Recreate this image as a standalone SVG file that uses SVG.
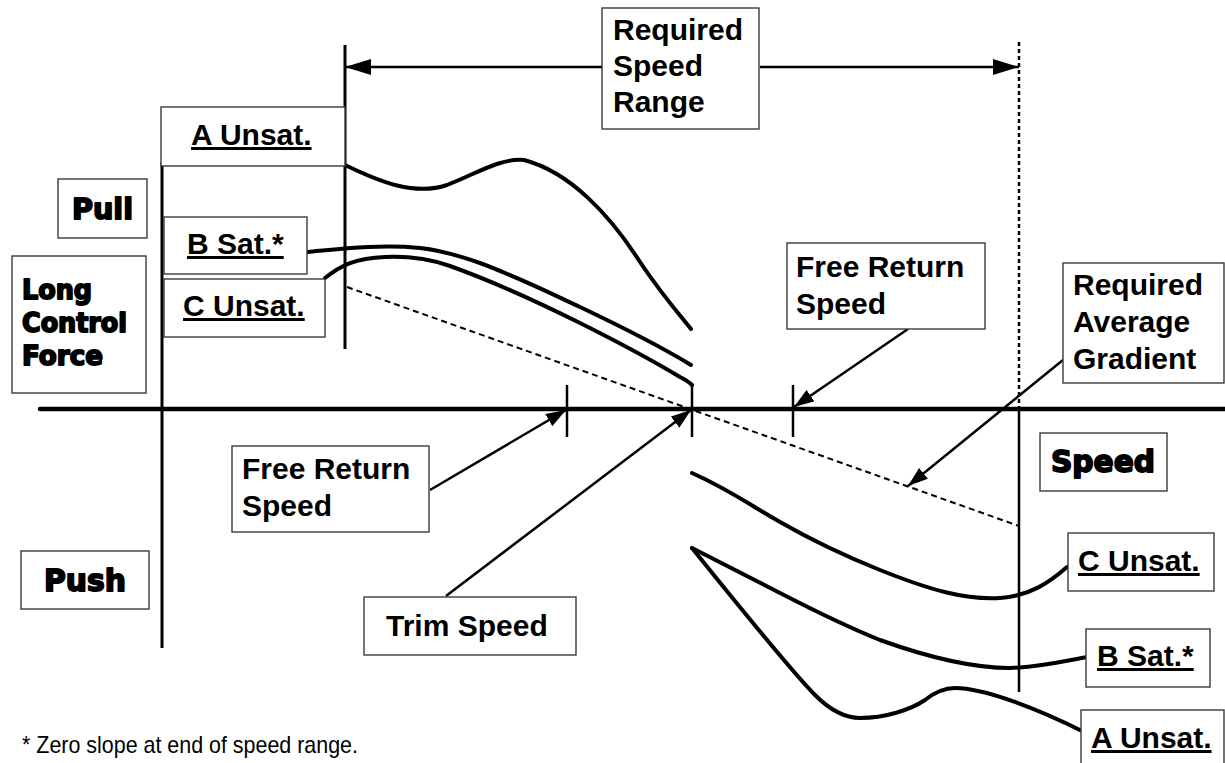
<svg xmlns="http://www.w3.org/2000/svg" width="1225" height="763" viewBox="0 0 1225 763">
<style>
.box{fill:#fff;stroke:#3a3a3a;stroke-width:1.4}
.lbl{font-family:"Liberation Sans",Arial,sans-serif;font-weight:bold;font-size:30px;fill:#000}
.u{text-decoration:underline}
.blk{font-family:"DejaVu Sans","Liberation Sans",sans-serif;font-weight:bold;fill:#000;stroke:#000;stroke-width:1.8;stroke-linejoin:round}
.curve{fill:none;stroke:#000;stroke-width:4;stroke-linecap:round;stroke-linejoin:round}
.ax{fill:none;stroke:#000;stroke-width:3}
.tick{fill:none;stroke:#000;stroke-width:2.5}
.arr{fill:none;stroke:#000;stroke-width:2.5}
.note{font-family:"Liberation Sans",Arial,sans-serif;font-size:24px;fill:#000}
</style>
<defs>
<marker id="ah" viewBox="0 0 20 14" refX="20" refY="7" markerWidth="20" markerHeight="14" markerUnits="userSpaceOnUse" orient="auto">
<path d="M0,0 L20,7 L0,14 z" fill="#000"/>
</marker>
<marker id="ahL" viewBox="0 0 26 16" refX="26" refY="8" markerWidth="26" markerHeight="16" markerUnits="userSpaceOnUse" orient="auto">
<path d="M0,0 L26,8 L0,16 z" fill="#000"/>
</marker>
</defs>
<rect width="1225" height="763" fill="#fff"/>

<g id="axes">
<line x1="40" y1="409" x2="1225" y2="409" stroke="#000" stroke-width="4.5" stroke-linecap="round"/>
<line class="ax" x1="162" y1="162" x2="162" y2="648"/>
<line class="ax" x1="345" y1="45" x2="345" y2="349"/>
<line x1="1019" y1="42" x2="1019" y2="409" stroke="#000" stroke-width="2.5" stroke-dasharray="4,3"/>
<line x1="1019" y1="409" x2="1019" y2="692" stroke="#000" stroke-width="2.5"/>
<line class="tick" x1="567" y1="385" x2="567" y2="437"/>
<line class="tick" x1="793" y1="385" x2="793" y2="437"/>
<line class="tick" x1="692" y1="385" x2="692" y2="437"/>
<line x1="347" y1="287" x2="1019" y2="526" stroke="#000" stroke-width="2" stroke-dasharray="6,4"/>
</g>

<g id="curves">
<path class="curve" d="M345,165 C380,182 415,196 447,185 C478,173 500,158 524,160 C570,172 610,215 640,262 C660,292 678,313 691,329"/>
<path class="curve" d="M308,252 C340,249 380,244 420,248 C440,250 460,256 480,263 C520,278 550,293 580,307 C620,326 660,346 691,365"/>
<path class="curve" d="M325,278 C340,266 355,258 385,257 C410,256 430,259 450,266 C500,284 540,303 580,323 C620,343 655,362 680,377 C686,380 690,383 692,385"/>
<path class="curve" d="M692,473 C730,490 750,505 780,522 C815,542 850,558 880,570 C930,590 965,600 1000,598 C1030,596 1050,582 1067,567"/>
<path class="curve" d="M692,548 C725,565 755,580 780,593 C815,611 850,628 880,640 C930,658 975,668 1010,668 C1040,667 1065,661 1087,657"/>
<path class="curve" d="M692,548 C730,595 790,670 815,695 C830,710 845,718 860,718 C885,718 910,710 925,700 C935,692 945,688 955,688 C985,688 1040,710 1082,731"/>
</g>

<g id="connectors">
<line class="arr" x1="603" y1="67" x2="345" y2="67" stroke-width="3" marker-end="url(#ahL)"/>
<line class="arr" x1="760" y1="67" x2="1019" y2="67" stroke-width="3" marker-end="url(#ahL)"/>
<line class="arr" x1="430" y1="490" x2="566" y2="410" marker-end="url(#ah)"/>
<line class="arr" x1="446" y1="596" x2="691" y2="410" marker-end="url(#ah)"/>
<line class="arr" x1="908" y1="329" x2="794" y2="407" marker-end="url(#ah)"/>
<line class="arr" x1="1063" y1="360" x2="908" y2="486" marker-end="url(#ah)"/>
</g>

<g id="node-required-speed-range">
<rect class="box" x="602" y="8" width="157" height="121"/>
<text class="lbl" x="613" y="40">Required</text>
<text class="lbl" x="613" y="76">Speed</text>
<text class="lbl" x="613" y="112">Range</text>
</g>

<g id="node-a-unsat-left">
<rect class="box" x="161" y="107" width="184" height="59"/>
<text class="lbl u" x="191" y="145">A Unsat.</text>
</g>
<g id="node-b-sat-left">
<rect class="box" x="164" y="217" width="143" height="57"/>
<text class="lbl u" x="187" y="254">B Sat.*</text>
</g>
<g id="node-c-unsat-left">
<rect class="box" x="164" y="279" width="161" height="58"/>
<text class="lbl u" x="183" y="316">C Unsat.</text>
</g>

<g id="node-pull">
<rect class="box" x="58" y="179" width="89" height="59"/>
<text class="blk" x="72" y="219" font-size="29" textLength="61" lengthAdjust="spacingAndGlyphs">Pull</text>
</g>
<g id="node-long-control-force">
<rect class="box" x="12" y="256" width="134" height="137"/>
<text class="blk" x="22" y="299" font-size="26" textLength="70" lengthAdjust="spacingAndGlyphs">Long</text>
<text class="blk" x="22" y="332" font-size="26" textLength="105" lengthAdjust="spacingAndGlyphs">Control</text>
<text class="blk" x="22" y="365" font-size="26" textLength="81" lengthAdjust="spacingAndGlyphs">Force</text>
</g>
<g id="node-push">
<rect class="box" x="21" y="551" width="128" height="58"/>
<text class="blk" x="44" y="591" font-size="30" textLength="82" lengthAdjust="spacingAndGlyphs">Push</text>
</g>
<g id="node-speed">
<rect class="box" x="1040" y="433" width="127" height="58"/>
<text class="blk" x="1051" y="472" font-size="30" textLength="104" lengthAdjust="spacingAndGlyphs">Speed</text>
</g>

<g id="node-free-return-left">
<rect class="box" x="232" y="446" width="197" height="86"/>
<text class="lbl" x="242" y="479">Free Return</text>
<text class="lbl" x="242" y="516">Speed</text>
</g>
<g id="node-trim-speed">
<rect class="box" x="364" y="597" width="212" height="58"/>
<text class="lbl" x="386" y="636">Trim Speed</text>
</g>
<g id="node-free-return-right">
<rect class="box" x="787" y="243" width="198" height="86"/>
<text class="lbl" x="796" y="277">Free Return</text>
<text class="lbl" x="796" y="314">Speed</text>
</g>
<g id="node-required-average-gradient">
<rect class="box" x="1063" y="263" width="161" height="120"/>
<text class="lbl" x="1073" y="295">Required</text>
<text class="lbl" x="1073" y="332">Average</text>
<text class="lbl" x="1073" y="369">Gradient</text>
</g>

<g id="node-c-unsat-right">
<rect class="box" x="1068" y="533" width="146" height="58"/>
<text class="lbl u" x="1078" y="571">C Unsat.</text>
</g>
<g id="node-b-sat-right">
<rect class="box" x="1086" y="629" width="124" height="58"/>
<text class="lbl u" x="1097" y="666">B Sat.*</text>
</g>
<g id="node-a-unsat-right">
<rect class="box" x="1081" y="710" width="143" height="60"/>
<text class="lbl u" x="1091" y="748">A Unsat.</text>
</g>

<g id="footnote">
<text class="note" x="22" y="753" textLength="336" lengthAdjust="spacingAndGlyphs">* Zero slope at end of speed range.</text>
</g>
</svg>
